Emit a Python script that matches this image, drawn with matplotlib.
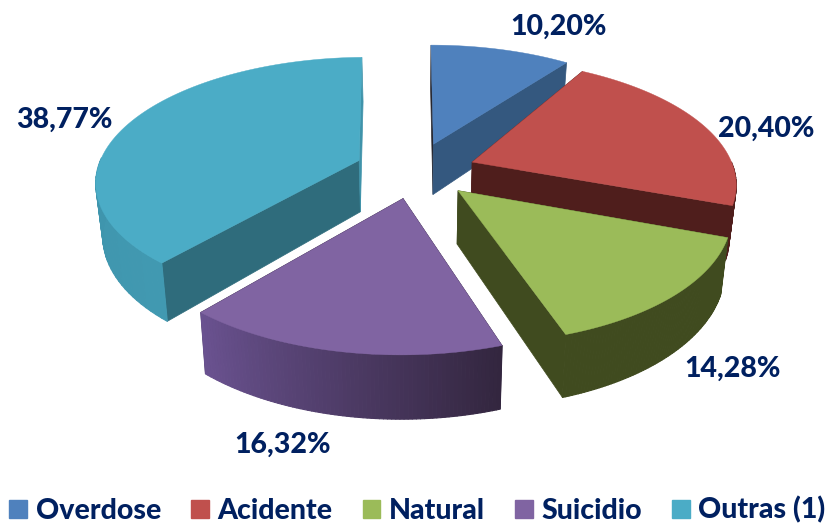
import numpy as np
import matplotlib
matplotlib.use('Agg')
import matplotlib.pyplot as plt
from matplotlib.collections import PolyCollection
from matplotlib.colors import LinearSegmentedColormap
from matplotlib.patches import Patch, Polygon

names = ['Overdose', 'Acidente', 'Natural', 'Suicidio', 'Outras (1)']
values = [10.20, 20.40, 14.28, 16.32, 38.77]
labels = ['10,20%', '20,40%', '14,28%', '16,32%', '38,77%']
top_colors = ['#4F81BD', '#C0504D', '#9BBB59', '#8064A2', '#4BACC6']
start_face = ['#26262E', '#4F1E1C', '#404B1F', '#33263F', '#2F6C7C']
end_face = ['#34587F', '#4F1E1C', '#404B1F', '#33263F', '#3F93AA']
rim_from = ['#34587F', '#4F1E1C', '#404B1F', '#33263F', '#4199B1']
rim_to = ['#34587F', '#4F1E1C', '#404B1F', '#6A5290', '#3B8DA4']
label_pos = [(558, 27), (766, 129), (733, 369), (283, 445), (64, 120)]
# small corrections to slice edges where the original render differs (degrees)
start_nudge = [0, -6, 0, 0, 0]
end_nudge = [0, 0, 0, 0, -1.2]

text_color = '#002060'
plt.rcParams['font.family'] = ['Lato', 'DejaVu Sans']

# fake 3d view, everything in pixels
cx, cy = 415, 170
rx, ry = 262, 122
persp = 0.156
explode = 0.23
depth = 52
shrink = 0.978


def project(x, y):
    s = 1 / (1 + persp * y)
    return cx + rx * x * s, cy - ry * y * s, s


def drop(px, py, s):
    return cx + (px - cx) * shrink, py + depth * s


fig = plt.figure(figsize=(8.31, 5.26), dpi=100)
ax = fig.add_axes([0, 0, 1, 1])
ax.set_xlim(0, 831)
ax.set_ylim(526, 0)
ax.axis('off')

edges = np.cumsum([0] + values) / sum(values) * 2 * np.pi
mids = (edges[:-1] + edges[1:]) / 2
order = sorted(range(len(values)), key=lambda i: -np.cos(mids[i]))

for z, i in enumerate(order):
    ox = explode * np.sin(mids[i])
    oy = explode * np.cos(mids[i])
    th = np.linspace(edges[i] + np.radians(start_nudge[i]),
                     edges[i + 1] + np.radians(end_nudge[i]), 80)
    ax0, ay0, s0 = project(ox, oy)
    px, py, ps = project(ox + np.sin(th), oy + np.cos(th))
    bx, by = drop(px, py, ps)
    bx0, by0 = drop(ax0, ay0, s0)

    # cut faces
    ax.add_patch(Polygon([(ax0, ay0), (px[0], py[0]), (bx[0], by[0]), (bx0, by0)],
                         fc=start_face[i], ec=start_face[i], lw=0.5, zorder=z * 3 + 1))
    ax.add_patch(Polygon([(ax0, ay0), (px[-1], py[-1]), (bx[-1], by[-1]), (bx0, by0)],
                         fc=end_face[i], ec=end_face[i], lw=0.5, zorder=z * 3 + 1))

    # outer wall
    cmap = LinearSegmentedColormap.from_list('rim', [rim_from[i], rim_to[i]])
    quads = []
    cols = []
    for k in range(len(th) - 1):
        if np.cos(th[k]) < 0.0:
            quads.append([(px[k], py[k]), (px[k + 1], py[k + 1]),
                          (bx[k + 1], by[k + 1]), (bx[k], by[k])])
            cols.append(cmap(k / (len(th) - 2)))
    if quads:
        ax.add_collection(PolyCollection(quads, facecolors=cols, edgecolors=cols,
                                         linewidths=0.8, zorder=z * 3 + 2))

    ax.add_patch(Polygon(np.column_stack([np.r_[ax0, px], np.r_[ay0, py]]),
                         fc=top_colors[i], ec=top_colors[i], lw=0.3, zorder=z * 3 + 3))

for lab, (lx, ly) in zip(labels, label_pos):
    ax.text(lx, ly, lab, color=text_color, fontsize=20.5, fontweight='black',
            ha='center', va='center', zorder=50)

handles = [Patch(fc=c, ec=c) for c in top_colors]
ax.legend(handles, names, ncol=5, frameon=False, loc='lower left',
          bbox_to_anchor=(0.001, -0.012), borderaxespad=0, borderpad=0.3,
          prop={'size': 20.5, 'weight': 'black'}, labelcolor=text_color,
          handlelength=0.62, handleheight=0.62, handletextpad=0.3, columnspacing=1.06)

fig.savefig('out.png', dpi=100)
